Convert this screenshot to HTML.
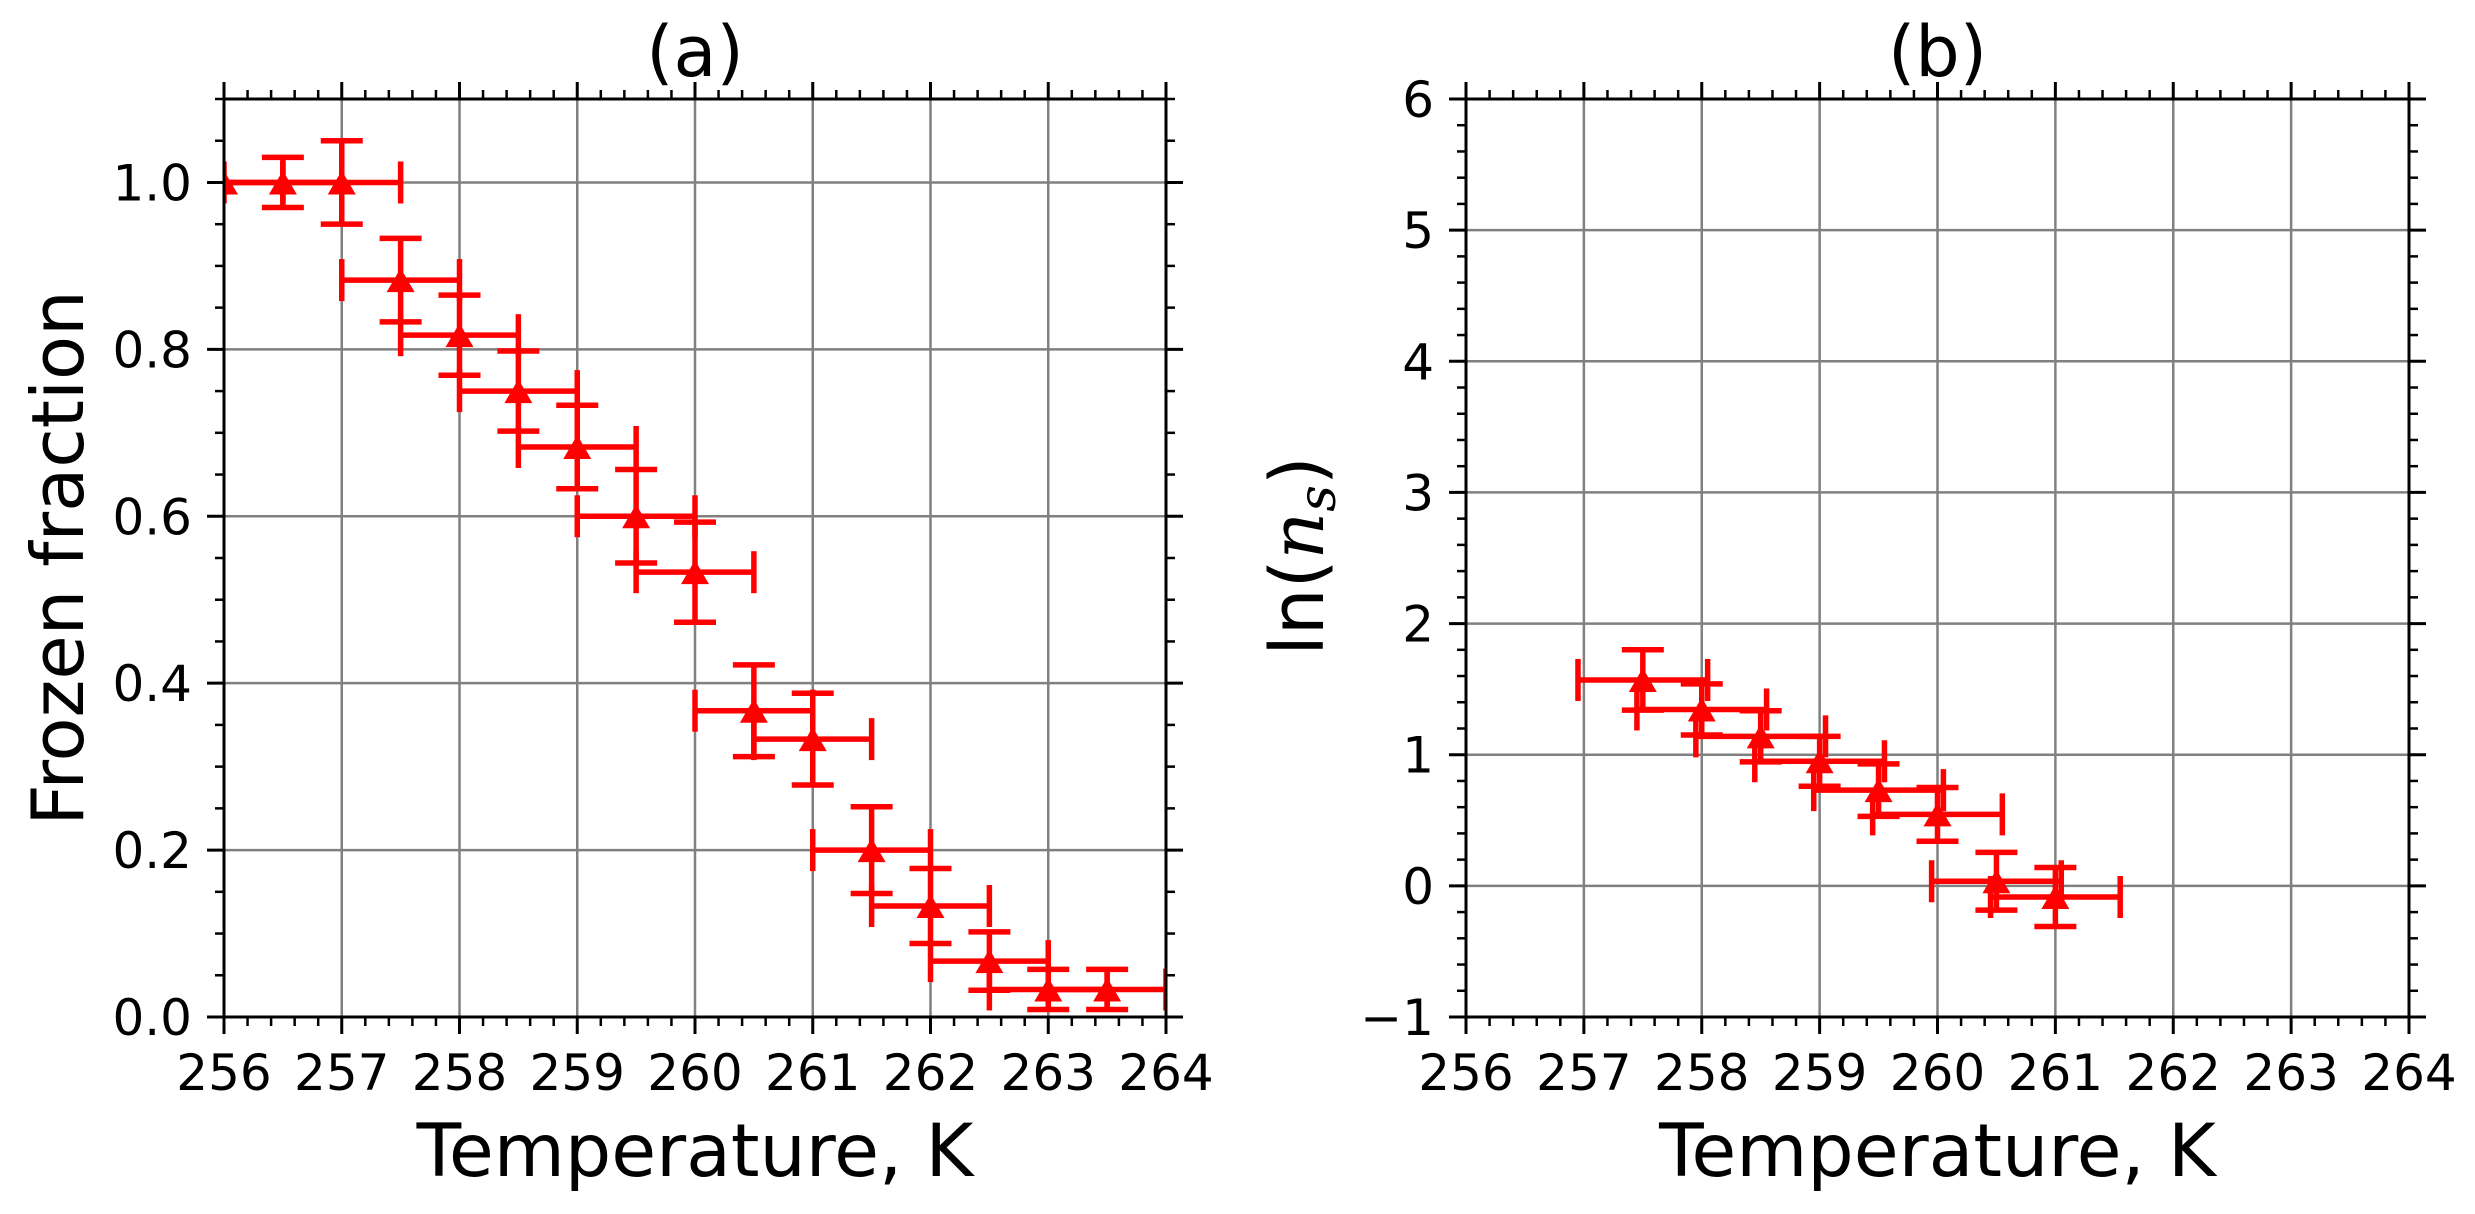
<!DOCTYPE html>
<html><head><meta charset="utf-8">
<style>
html,body{margin:0;padding:0;background:#fff;}
svg{display:block;}
text{font-family:"DejaVu Sans","Liberation Sans",sans-serif;fill:#000;}
</style></head>
<body>
<svg id="fig" width="2475" height="1214" viewBox="0 0 2475 1214" xmlns="http://www.w3.org/2000/svg">
<rect width="2475" height="1214" fill="#fff"/>
<defs>
<clipPath id="clipA"><rect x="224" y="99" width="942" height="918"/></clipPath>
<clipPath id="clipB"><rect x="1466" y="99" width="943" height="918"/></clipPath>
</defs>
<g id="panelA"></g>
<g id="panelB"></g>
</svg>
<script>
// Panel (a) data
const tempsA = [256, 256.5, 257, 257.5, 258, 258.5, 259, 259.5, 260, 260.5, 261, 261.5, 262, 262.5, 263, 263.5];
const fracA  = [1.0, 1.0, 1.0, 0.883, 0.817, 0.75, 0.683, 0.6, 0.533, 0.367, 0.333, 0.2, 0.133, 0.067, 0.033, 0.033];
const fracErrA = [0.0, 0.03, 0.05, 0.05, 0.048, 0.048, 0.05, 0.056, 0.06, 0.055, 0.055, 0.052, 0.045, 0.035, 0.024, 0.024];
const tempErrA = [0.5, 0.5, 0.5, 0.5, 0.5, 0.5, 0.5, 0.5, 0.5, 0.5, 0.5, 0.5, 0.5, 0.5, 0.5, 0.5];
const xTicksA = [256, 257, 258, 259, 260, 261, 262, 263, 264];
const yTicksA = [0.0, 0.2, 0.4, 0.6, 0.8, 1.0];
const yTickLabelsA = ["0.0", "0.2", "0.4", "0.6", "0.8", "1.0"];

// Panel (b) data
const tempsB = [257.5, 258, 258.5, 259, 259.5, 260, 260.5, 261];
const lnNsB  = [1.57, 1.345, 1.14, 0.95, 0.73, 0.545, 0.035, -0.085];
const lnNsErrB = [0.23, 0.195, 0.195, 0.19, 0.2, 0.205, 0.22, 0.225];
const tempErrB = [0.55, 0.55, 0.55, 0.55, 0.55, 0.55, 0.55, 0.55];
const xTicksB = [256, 257, 258, 259, 260, 261, 262, 263, 264];
const yTicksB = [-1, 0, 1, 2, 3, 4, 5, 6];
const yTickLabelsB = ["\u22121", "0", "1", "2", "3", "4", "5", "6"];

const NS = "http://www.w3.org/2000/svg";
function mk(parent, tag, attrs) {
  const e = document.createElementNS(NS, tag);
  for (const k in attrs) e.setAttribute(k, attrs[k]);
  parent.appendChild(e);
  return e;
}

function drawPanel(g, cfg) {
  const {L, R, T, B, xmin, xmax, ymin, ymax, clip} = cfg;
  const sx = v => L + (v - xmin) / (xmax - xmin) * (R - L);
  const sy = v => B - (v - ymin) / (ymax - ymin) * (B - T);

  cfg.xTicks.forEach(t => {
    const l = mk(g, 'line', {x1: sx(t), x2: sx(t), y1: T, y2: B, stroke: '#808080', 'stroke-width': 2.5});
    
    
  });
  cfg.yTicks.forEach(t => {
    const l = mk(g, 'line', {x1: L, x2: R, y1: sy(t), y2: sy(t), stroke: '#808080', 'stroke-width': 2.5});
    
    
  });

  const dg = mk(g, 'g', {'clip-path': 'url(#' + clip + ')'});
  
  
  const red = '#ff0000', lw = 5.5, cap = 21;
  const xs = cfg.x, ys = cfg.y, ye = cfg.ye, xe = cfg.xe;
  for (let i = 0; i < xs.length; i++) {
    const cx = sx(xs[i]), cy = sy(ys[i]);
    const eb = mk(dg, 'g', {stroke: red, 'stroke-width': lw, fill: 'none'});
    
    
    const x0 = sx(xs[i] - xe[i]), x1 = sx(xs[i] + xe[i]);
    mk(eb, 'line', {x1: x0, x2: x1, y1: cy, y2: cy});
    mk(eb, 'line', {x1: x0, x2: x0, y1: cy - cap, y2: cy + cap});
    mk(eb, 'line', {x1: x1, x2: x1, y1: cy - cap, y2: cy + cap});
    if (ye[i] > 0) {
      const y0 = sy(ys[i] - ye[i]), y1 = sy(ys[i] + ye[i]);
      mk(eb, 'line', {x1: cx, x2: cx, y1: y0, y2: y1});
      mk(eb, 'line', {x1: cx - cap, x2: cx + cap, y1: y0, y2: y0});
      mk(eb, 'line', {x1: cx - cap, x2: cx + cap, y1: y1, y2: y1});
    }
  }
  for (let i = 0; i < xs.length; i++) {
    const cx = sx(xs[i]), cy = sy(ys[i]);
    const m = mk(dg, 'polygon', {points: `${cx},${cy - 12} ${cx - 14},${cy + 12} ${cx + 14},${cy + 12}`, fill: red});
    
    
  }

  const sp = mk(g, 'rect', {x: L, y: T, width: R - L, height: B - T, fill: 'none', stroke: '#000', 'stroke-width': 3});
  
  

  const tg = mk(g, 'g', {stroke: '#000'});
  
  
  const maj = 17, mnr = 9;
  for (let v = xmin; v <= xmax + 1e-9; v += cfg.xMinor) {
    const isMaj = Math.abs(v - Math.round(v)) < 1e-6;
    const len = isMaj ? maj : mnr, w = isMaj ? 3 : 2.5;
    const x = sx(v);
    mk(tg, 'line', {x1: x, x2: x, y1: B, y2: B + len, 'stroke-width': w});
    mk(tg, 'line', {x1: x, x2: x, y1: T, y2: T - len, 'stroke-width': w});
  }
  const nMinor = Math.round((ymax - ymin) / cfg.yMinor);
  for (let k = 0; k <= nMinor; k++) {
    const v = ymin + k * cfg.yMinor;
    const isMaj = cfg.yTicks.some(t => Math.abs(t - v) < 1e-6);
    const len = isMaj ? maj : mnr, w = isMaj ? 3 : 2.5;
    const y = sy(v);
    mk(tg, 'line', {x1: L, x2: L - len, y1: y, y2: y, 'stroke-width': w});
    mk(tg, 'line', {x1: R, x2: R + len, y1: y, y2: y, 'stroke-width': w});
  }

  cfg.xTicks.forEach(t => {
    const tx = mk(g, 'text', {x: sx(t), y: 1090, 'font-size': 50, 'text-anchor': 'middle'});
    tx.textContent = String(t);
    
    
  });
  cfg.yTicks.forEach((t, i) => {
    const tx = mk(g, 'text', {x: L - 32, y: sy(t) + 18, 'font-size': 50, 'text-anchor': 'end'});
    tx.textContent = cfg.yTickLabels[i];
    
    
  });

  const xl = mk(g, 'text', {x: (L + R) / 2, y: 1176, 'font-size': 73, 'text-anchor': 'middle'});
  xl.textContent = 'Temperature, K';
  
  

  const ti = mk(g, 'text', {x: (L + R) / 2, y: 76, 'font-size': 70, 'text-anchor': 'middle'});
  ti.textContent = cfg.title;
  
  
  return {sx, sy};
}

const gA = document.getElementById('panelA');
drawPanel(gA, {L: 224, R: 1166, T: 99, B: 1017, xmin: 256, xmax: 264, ymin: 0, ymax: 1.1,
  clip: 'clipA', x: tempsA, y: fracA, ye: fracErrA, xe: tempErrA,
  xTicks: xTicksA, yTicks: yTicksA, yTickLabels: yTickLabelsA, xMinor: 0.2, yMinor: 0.05, title: '(a)'});
const ylA = mk(gA, 'text', {x: 0, y: 0, 'font-size': 72, 'text-anchor': 'middle', transform: 'translate(83,558) rotate(-90)'});
ylA.textContent = 'Frozen fraction';



const gB = document.getElementById('panelB');
drawPanel(gB, {L: 1466, R: 2409, T: 99, B: 1017, xmin: 256, xmax: 264, ymin: -1, ymax: 6,
  clip: 'clipB', x: tempsB, y: lnNsB, ye: lnNsErrB, xe: tempErrB,
  xTicks: xTicksB, yTicks: yTicksB, yTickLabels: yTickLabelsB, xMinor: 0.2, yMinor: 0.2, title: '(b)'});
const ylB = mk(gB, 'text', {x: 0, y: 0, 'font-size': 74, 'text-anchor': 'middle', transform: 'translate(1323,556) rotate(-90)'});


const t1 = mk(ylB, 'tspan', {}); t1.textContent = 'ln(';
const t2 = mk(ylB, 'tspan', {'font-family': '"DejaVu Serif","Liberation Serif",serif', 'font-style': 'italic'}); t2.textContent = 'n';
const t3 = mk(ylB, 'tspan', {'font-family': '"DejaVu Serif","Liberation Serif",serif', 'font-style': 'italic', 'font-size': 52, dy: 12}); t3.textContent = 's';
const t4 = mk(ylB, 'tspan', {dy: -12}); t4.textContent = ')';
</script>
</body></html>
